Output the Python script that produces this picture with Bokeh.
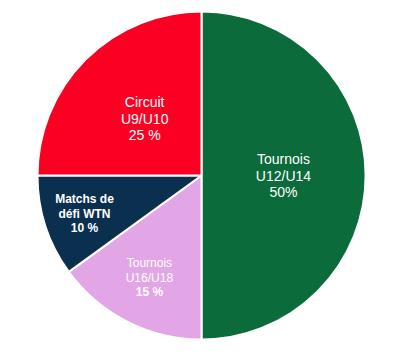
import math
from bokeh.plotting import figure
from bokeh.models import Range1d, ColumnDataSource
from bokeh.core.properties import value
from bokeh.embed import file_html
from bokeh.resources import INLINE

categories = ["Tournois U12/U14", "Tournois U16/U18", "Matchs de défi WTN", "Circuit U9/U10"]
shares = [50, 15, 10, 25]
label_lines = [["Tournois", "U12/U14", "50%"],
               ["Tournois", "U16/U18", "15 %"],
               ["Matchs de", "défi WTN", "10 %"],
               ["Circuit", "U9/U10", "25 %"]]
line_styles = [["normal", "normal", "normal"],
               ["normal", "normal", "bold"],
               ["bold", "bold", "bold"],
               ["normal", "normal", "normal"]]
colors = ["#0b6b3a", "#e2a6e6", "#0a2f4f", "#fb0022"]
label_r = [0.50, 0.70, 0.75, 0.49]
label_sizes = [14, 12, 12, 14]

W, H = 409, 355
cx, cy, R = 201, H - 175, 164

total = sum(shares)
starts, ends = [], []
tx, ty, tt, tsize, tstyle = [], [], [], [], []
acc = 0.0
for s, fr, lines, styles, fs in zip(shares, label_r, label_lines, line_styles, label_sizes):
    b0 = acc / total * 2 * math.pi
    b1 = (acc + s) / total * 2 * math.pi
    starts.append(math.pi / 2 - b0)
    ends.append(math.pi / 2 - b1)
    bm = (b0 + b1) / 2
    x0 = cx + fr * R * math.sin(bm)
    y0 = cy + fr * R * math.cos(bm)
    lh = fs * 1.2
    n = len(lines)
    for i, (ln, st) in enumerate(zip(lines, styles)):
        tx.append(x0)
        ty.append(y0 + ((n - 1) / 2 - i) * lh)
        tt.append(ln)
        tsize.append(f"{fs}px")
        tstyle.append(st)
    acc += s

src = ColumnDataSource(dict(start=starts, end=ends, color=colors, cat=categories))
lsrc = ColumnDataSource(dict(x=tx, y=ty, text=tt, size=tsize, style=tstyle))

p = figure(width=W, height=H, x_range=Range1d(0, W), y_range=Range1d(0, H),
           output_backend="svg", toolbar_location=None, min_border=0)
p.axis.visible = False
p.grid.visible = False
p.outline_line_color = None
p.background_fill_color = "white"

p.wedge(x=cx, y=cy, radius=R, start_angle="start", end_angle="end", direction="clock",
        fill_color="color", line_color="white", line_width=2, source=src)
p.text(x="x", y="y", text="text", text_align="center", text_baseline="middle",
       text_color="white", text_font=value("Liberation Sans"), text_font_size="size",
       text_font_style="style", source=lsrc)

open("out.html", "w").write(file_html(p, INLINE))
